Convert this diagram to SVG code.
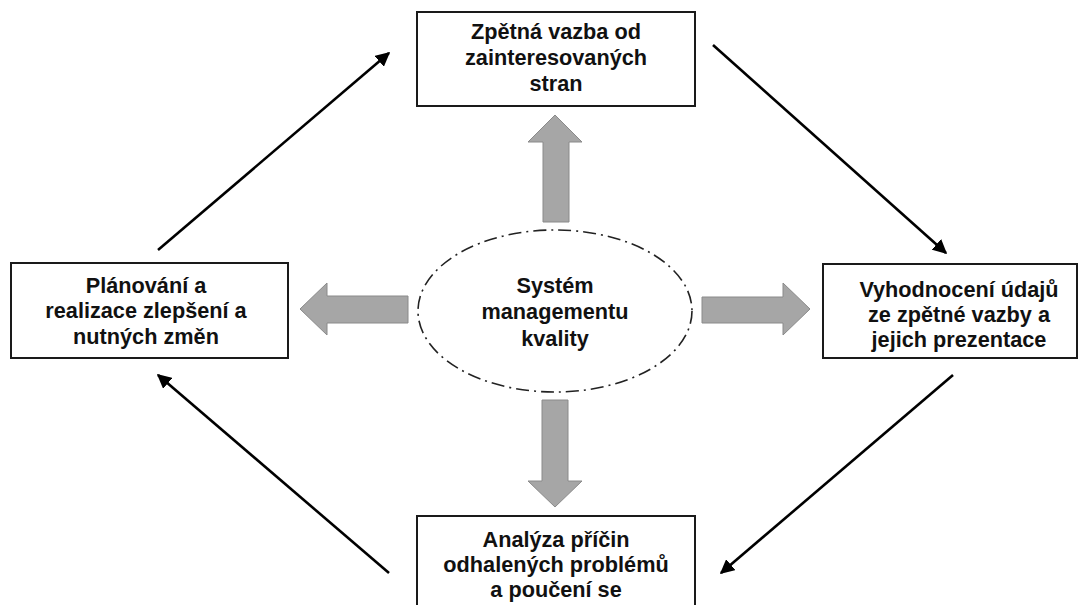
<svg xmlns="http://www.w3.org/2000/svg" width="1088" height="605" viewBox="0 0 1088 605">
<defs>
<style>
.box{fill:#fff;stroke:#1a1a1a;stroke-width:2}
.t{font-family:"Liberation Sans",Arial,sans-serif;font-weight:bold;font-size:21.7px;fill:#111;text-anchor:middle}
.big{fill:#a6a6a6;stroke:#8a8a8a;stroke-width:1}
.con{stroke:#000;stroke-width:2.6;fill:none;marker-end:url(#ah)}
</style>
<marker id="ah" viewBox="0 0 10 10" refX="9" refY="5" markerWidth="5.5" markerHeight="5.5" orient="auto" markerUnits="strokeWidth">
<path d="M0,0 L10,5 L0,10 z" fill="#000"/>
</marker>
</defs>
<rect width="1088" height="605" fill="#fff"/>
<g id="top">
<rect class="box" x="417" y="12" width="278" height="94"/>
<text class="t" x="556" y="39">Zpětná vazba od</text>
<text class="t" x="556" y="65">zainteresovaných</text>
<text class="t" x="556" y="91">stran</text>
</g>
<g id="left">
<rect class="box" x="11" y="263" width="277" height="95"/>
<text class="t" x="146" y="293">Plánování a</text>
<text class="t" x="146" y="318">realizace zlepšení a</text>
<text class="t" x="146" y="344">nutných změn</text>
</g>
<g id="right">
<rect class="box" x="823" y="264" width="254" height="94"/>
<text class="t" x="959" y="297">Vyhodnocení údajů</text>
<text class="t" x="959" y="322">ze zpětné vazby a</text>
<text class="t" x="959" y="347">jejich prezentace</text>
</g>
<g id="bottom">
<rect class="box" x="417" y="516" width="278" height="100"/>
<text class="t" x="556" y="547">Analýza příčin</text>
<text class="t" x="556" y="572">odhalených problémů</text>
<text class="t" x="556" y="597">a poučení se</text>
</g>
<g id="center">
<ellipse cx="555" cy="311" rx="137" ry="81" fill="none" stroke="#222" stroke-width="1.6" stroke-dasharray="13,5,2,5"/>
<text class="t" x="555" y="293">Systém</text>
<text class="t" x="555" y="319">managementu</text>
<text class="t" x="555" y="346">kvality</text>
</g>
<g id="connectors">
<path class="big" d="M543,222 L543,142 L528,142 L555,115 L582,142 L569,142 L569,222 Z"/>
<path class="big" d="M542,400 L542,481 L528,481 L555,507 L582,481 L568,481 L568,400 Z"/>
<path class="big" d="M408,296 L327,296 L327,283 L300,309 L327,335 L327,323 L408,323 Z"/>
<path class="big" d="M702,297 L783,297 L783,283 L810,309 L783,335 L783,323 L702,323 Z"/>
<line class="con" x1="158" y1="250" x2="389" y2="53"/>
<line class="con" x1="713" y1="45" x2="946" y2="253"/>
<line class="con" x1="953" y1="375" x2="721" y2="573"/>
<line class="con" x1="389" y1="573" x2="158" y2="375"/>
</g>
</svg>
